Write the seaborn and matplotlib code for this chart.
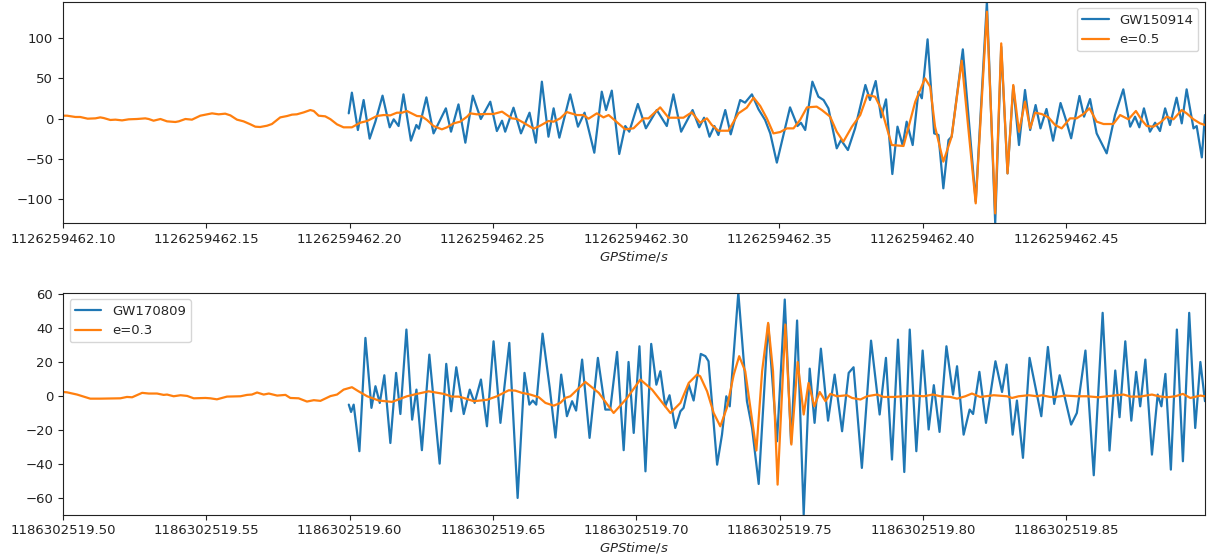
import numpy as np
import matplotlib
matplotlib.use("Agg")
import matplotlib.pyplot as plt
from matplotlib.ticker import FormatStrFormatter, MultipleLocator
import seaborn as sns

# GPS reference epochs (s); sample times below are in ms after each epoch
GW150914_T0 = 1126259462.0
GW170809_T0 = 1186302519.0

# --- GW150914: whitened detector strain (blue) and e=0.5 template (orange)
gw150914_ms = [
    199.7, 200.8, 202.9, 204.9, 207.0, 209.0, 211.5, 214.0, 215.4, 217.1,
    218.8, 221.4, 223.3, 224.2, 226.8, 229.3, 233.6, 235.4, 238.0, 240.4,
    243.0, 245.8, 249.1, 251.4, 253.2, 254.3, 257.2, 259.8, 262.8, 265.0,
    267.1, 269.4, 271.2, 273.2, 277.0, 279.7, 282.0, 285.4, 288.0, 289.5,
    291.5, 294.1, 296.2, 297.6, 300.6, 303.4, 307.2, 310.7, 313.0, 315.7,
    319.7, 322.0, 323.7, 325.6, 327.3, 328.7, 331.1, 333.0, 336.3, 338.0,
    340.4, 342.7, 345.0, 346.8, 349.1, 353.7, 356.3, 357.5, 359.0, 361.5,
    363.6, 365.4, 367.1, 370.0, 371.5, 373.9, 376.4, 380.0, 381.6, 383.6,
    385.5, 387.2, 389.4, 391.2, 393.0, 394.4, 396.5, 398.5, 399.7, 401.7,
    404.0, 405.5, 407.2, 409.0, 410.1, 414.0, 418.5, 422.4, 425.3, 427.4,
    429.6, 431.6, 433.6, 435.7, 437.5, 439.4, 441.1, 443.2, 445.5, 448.1,
    450.0, 451.8, 454.7, 456.3, 458.4, 460.7, 464.2, 467.1, 470.0, 472.4,
    474.1, 475.6, 477.2, 479.3, 481.1, 482.8, 484.6, 486.3, 488.6, 490.4,
    492.1, 494.5, 495.6, 497.4, 498.5,
]
gw150914_strain = [
    6.6, 32.2, -14.0, 23.1, -24.7, -3.7, 28.5, -10.7, -0.8, -9.1,
    30.1, -27.2, -7.8, -12.4, 26.4, -18.2, 12.8, -16.1, 17.7, -29.7,
    28.5, -0.4, 21.0, -15.3, -2.5, -16.1, 13.6, -18.2, 7.4, -29.7,
    45.8, -22.3, 12.8, -23.5, 30.1, -9.9, 7.4, -42.1, 33.4, 10.7,
    34.7, -43.7, -9.1, -16.1, 18.2, -11.9, 10.7, -9.1, 30.1, -16.1,
    10.7, -10.7, 1.2, -22.3, -9.1, -20.2, 10.7, -19.4, 23.1, 19.8,
    30.1, 11.6, -1.6, -18.2, -54.4, 14.0, -9.1, -5.0, -14.0, 45.8,
    27.2, 23.1, 12.8, -36.7, -26.4, -38.8, -12.0, 41.7, 23.1, 46.6,
    1.6, 23.9, -68.5, -9.9, -33.0, -3.7, -32.6, 33.4, 25.2, 98.2,
    -18.2, -20.2, -86.2, -26.4, -22.3, 85.8, -102.7, 144.8, -129.5, 89.0,
    -67.7, 40.4, -32.6, 35.5, -14.0, 16.9, -12.0, 12.0, -27.2, 19.4,
    -1.6, -24.3, 28.1, 2.5, 24.3, -18.2, -42.9, 4.5, 36.3, -9.9,
    2.5, -10.7, 12.8, -16.1, -5.0, -15.3, 12.8, -7.8, 26.0, -5.8,
    36.3, -12.0, -9.1, -47.9, 4.5,
]

model_e05_ms = [
    100.0, 101.4, 104.3, 106.0, 108.6, 111.3, 113.0, 114.2, 116.5, 118.3,
    120.6, 122.9, 125.8, 128.7, 129.9, 131.6, 134.0, 136.3, 139.2, 140.4,
    142.7, 145.0, 147.9, 149.7, 152.0, 154.3, 156.6, 158.4, 160.7, 163.0,
    165.4, 167.1, 168.8, 171.2, 172.9, 175.8, 178.2, 179.9, 181.6, 184.0,
    186.3, 187.5, 189.2, 191.5, 193.3, 195.6, 197.9, 200.8, 203.7, 206.1,
    209.5, 211.9, 214.2, 216.5, 218.3, 220.0, 223.5, 225.2, 227.0, 229.3,
    232.2, 234.0, 236.3, 238.6, 241.0, 242.1, 244.4, 248.0, 250.2, 253.2,
    254.9, 256.6, 258.4, 260.7, 264.2, 266.5, 269.4, 271.2, 273.5, 275.8,
    279.3, 281.6, 283.4, 286.3, 288.6, 290.4, 292.7, 296.2, 299.1, 302.6,
    304.3, 308.4, 311.3, 316.5, 319.4, 322.3, 324.7, 326.4, 328.7, 332.2,
    335.7, 338.6, 341.0, 343.3, 345.6, 347.9, 350.3, 352.6, 354.9, 357.2,
    359.6, 363.0, 364.8, 367.7, 370.0, 372.3, 375.3, 378.2, 380.7, 383.4,
    385.7, 389.2, 393.3, 397.4, 400.8, 402.6, 404.3, 407.2, 410.1, 413.6,
    418.5, 422.4, 425.3, 427.4, 429.6, 431.6, 433.6, 435.7, 437.5, 439.2,
    441.5, 443.9, 446.2, 448.5, 451.4, 453.7, 456.1, 458.2, 460.7, 463.1,
    466.5, 468.9, 471.8, 474.4, 476.4, 478.2, 480.5, 482.8, 485.2, 487.5,
    490.4, 492.1, 494.5, 496.8, 498.5,
]
model_e05_strain = [
    3.7, 3.7, 2.1, 2.1, 0.0, 0.4, 1.6, 0.8, -1.6, -1.2,
    -2.1, -0.8, -0.4, 0.4, -0.4, -2.5, -0.4, -3.3, -4.1, -3.3,
    -0.4, -1.2, 3.7, 5.0, 6.6, 5.4, 6.2, 4.1, -1.2, -3.3,
    -7.0, -9.9, -10.3, -8.7, -6.6, 1.6, 3.3, 5.0, 5.4, 7.8,
    10.7, 9.5, 3.7, 2.9, -0.6, -7.0, -10.7, -10.7, -5.0, -2.9,
    3.3, 4.5, 4.1, 7.4, 7.4, 9.5, 3.3, 2.9, -1.6, -9.1,
    -13.2, -10.7, -5.8, -3.7, 2.5, 6.6, 5.4, 5.8, 5.8, 8.7,
    4.5, 0.4, -0.4, -5.0, -12.4, -8.7, -2.9, -3.7, 0.4, 8.2,
    4.5, 4.5, 0.0, 6.6, 1.6, 4.5, -2.5, -13.2, -11.9, 0.4,
    0.4, 14.0, 1.2, 1.2, 7.8, -5.0, 0.4, -7.8, -14.9, -14.9,
    6.6, 13.6, 26.0, 15.7, 0.4, -18.2, -16.5, -12.0, -12.0, -1.6,
    14.0, 14.9, 10.7, 2.5, -16.1, -28.5, -9.9, 4.5, 29.3, 27.2,
    10.7, -32.6, -33.8, 21.0, 49.9, 39.6, -9.9, -53.2, -22.3, 71.8,
    -104.8, 132.4, -117.2, 93.2, -67.7, 41.7, -16.1, 21.0, -12.0, 7.4,
    5.8, 1.6, -7.8, -12.0, 0.4, 0.4, 5.8, 12.8, -3.7, -6.6,
    -6.6, 4.5, -0.8, 9.5, -1.6, -9.1, -9.9, -5.0, 2.5, -0.8,
    10.7, 6.6, -0.8, -5.8, -7.8,
]

# --- GW170809: whitened detector strain (blue) and e=0.3 template (orange)
gw170809_ms = [
    599.7, 600.5, 601.4, 603.4, 605.5, 607.6, 609.0, 610.5, 612.1, 614.2,
    616.2, 617.7, 619.8, 621.8, 623.3, 625.2, 627.8, 631.4, 633.7, 635.4,
    637.2, 639.8, 641.9, 643.6, 645.8, 647.9, 650.2, 652.6, 655.7, 658.6,
    661.0, 662.7, 663.9, 665.1, 667.3, 669.8, 671.8, 673.8, 675.8, 677.6,
    679.0, 681.1, 683.7, 686.6, 689.2, 690.9, 693.3, 695.6, 697.3, 699.1,
    701.1, 703.2, 705.2, 707.0, 708.4, 710.1, 711.6, 713.6, 715.4, 716.5,
    718.3, 720.0, 722.5, 724.1, 725.2, 728.2, 729.9, 731.4, 732.6, 735.6,
    738.6, 740.4, 742.7, 746.0, 749.1, 751.8, 754.0, 756.1, 758.4, 760.5,
    762.2, 764.4, 766.9, 769.2, 771.8, 774.1, 775.8, 778.7, 781.9, 784.9,
    787.1, 789.2, 791.3, 793.5, 795.4, 797.7, 799.9, 802.0, 803.8, 805.8,
    808.2, 810.5, 811.9, 814.2, 816.3, 817.5, 819.7, 822.0, 825.3, 827.6,
    829.2, 831.3, 832.8, 834.9, 837.2, 839.2, 841.3, 843.6, 845.8, 847.7,
    851.7, 853.7, 856.7, 859.6, 862.7, 865.1, 867.1, 868.6, 870.6, 872.7,
    874.4, 875.8, 877.6, 879.9, 881.9, 883.2, 884.6, 886.5, 888.6, 890.7,
    892.9, 895.0, 896.8, 898.4,
]
gw170809_strain = [
    -5.1, -9.4, -5.1, -32.4, 34.0, -7.0, 5.7, -4.1, 12.1, -27.6,
    13.5, -10.6, 38.9, -13.9, 3.7, -31.8, 24.2, -39.7, 18.8, -9.0,
    16.8, -10.6, 3.7, -4.1, 9.6, -17.8, 32.0, -15.8, 31.1, -59.8,
    13.5, -5.1, -2.7, -5.1, 36.5, 4.7, -24.4, 12.5, -11.9, -3.1,
    -8.6, 21.3, -24.6, 22.3, -8.0, -8.0, 25.8, -31.8, 19.9, -21.7,
    29.1, -44.2, 30.5, 6.6, 14.5, -6.1, 0.4, -18.8, -9.0, -7.0,
    6.6, -2.7, 24.6, 23.3, 20.3, -40.3, -22.7, -0.2, -6.1, 60.5,
    -3.1, -18.8, -51.6, 42.2, -26.6, 56.5, -27.6, 44.2, -69.6, 16.0,
    -15.8, 27.7, -14.5, 12.5, -20.7, 13.5, 16.8, -42.2, 32.4, -10.9,
    22.3, -37.3, 33.0, -44.6, 38.9, -32.4, 26.6, -19.7, 6.3, -21.1,
    29.1, 0.8, 17.4, -22.7, -8.0, -10.6, 14.1, -15.8, 20.3, 2.3,
    18.4, -22.7, -2.7, -36.3, 22.3, 5.7, -11.9, 28.7, -4.7, 12.1,
    -16.8, -10.0, 26.6, -46.5, 48.7, -32.0, 14.9, -12.5, 32.0, -14.5,
    14.1, -6.1, 21.3, -34.4, 0.8, -6.1, 12.9, -43.2, 38.9, -38.3,
    48.7, -18.8, 19.9, -3.1,
]

model_e03_ms = [
    500.0, 501.4, 504.9, 509.5, 513.0, 520.0, 522.3, 524.1, 527.6, 529.9,
    532.8, 535.1, 536.3, 538.6, 541.0, 543.3, 545.6, 549.7, 551.4, 553.7,
    557.2, 561.9, 564.2, 565.9, 567.7, 570.0, 571.8, 574.7, 577.6, 579.3,
    582.2, 585.1, 587.5, 589.8, 593.3, 595.6, 597.9, 600.8, 603.1, 606.1,
    610.1, 614.8, 620.0, 623.5, 627.6, 632.8, 635.7, 638.0, 639.8, 643.3,
    647.9, 651.4, 655.5, 657.8, 660.1, 663.0, 666.0, 668.3, 671.2, 673.5,
    675.2, 677.0, 682.2, 686.9, 692.1, 696.8, 701.4, 705.5, 711.9, 715.4,
    718.3, 721.2, 722.3, 724.7, 727.0, 729.3, 731.6, 734.0, 735.9, 738.0,
    739.8, 741.9, 743.9, 746.0, 747.7, 749.3, 752.0, 754.1, 756.3, 758.4,
    760.1, 762.1, 764.0, 766.0, 767.7, 770.0, 773.5, 775.3, 778.2, 780.5,
    784.0, 786.3, 789.8, 793.3, 796.8, 800.3, 803.5, 806.1, 809.6, 811.9,
    814.8, 817.1, 820.0, 824.7, 829.3, 831.1, 833.4, 836.9, 839.8, 841.5,
    844.4, 846.2, 849.7, 853.7, 857.2, 861.3, 865.4, 870.0, 872.4, 875.8,
    879.9, 882.2, 885.2, 888.1, 890.7, 893.3, 896.8, 898.4,
]
model_e03_strain = [
    2.3, 2.1, 0.8, -1.6, -1.6, -1.4, -0.6, -0.8, 1.8, 1.4,
    1.4, 0.6, 0.8, -0.2, 0.4, 0.0, -1.4, -1.2, -1.4, -2.0,
    -0.4, -0.2, 0.6, 0.8, 2.0, 0.8, 1.4, 0.2, 0.6, -1.2,
    -1.4, -3.3, -2.5, -2.9, -0.1, 0.8, 3.7, 5.1, 2.7, -0.2,
    -2.7, -3.5, -0.2, 1.2, 2.7, 1.2, -0.4, -0.4, -1.2, -3.1,
    -2.3, -0.2, 3.3, 3.1, 1.8, 0.8, -0.8, -4.1, -5.7, -4.1,
    -1.2, -0.2, 8.2, 1.8, -10.0, -1.2, 9.6, 3.7, -10.0, -4.1,
    7.6, 12.5, 11.5, 2.7, -10.0, -17.8, -7.0, 12.5, 23.3, 14.5,
    -7.0, -32.0, 14.5, 42.8, 14.5, -52.0, 41.8, -28.5, 19.9, -10.9,
    7.6, -6.1, 2.3, -3.1, 1.2, -0.2, 0.4, -1.2, -2.1, -0.2,
    0.8, -0.6, -0.6, -0.2, 0.2, -0.2, 0.8, -0.2, -0.6, -1.6,
    -0.2, 1.4, -0.6, 0.4, -0.2, -1.2, -0.2, 0.4, -0.2, 0.4,
    -0.6, -0.6, 0.2, -0.2, -0.2, -0.8, 0.0, 0.8, -0.4, -0.4,
    0.8, -0.2, -0.8, -0.2, 1.2, -1.2, 0.2, -0.2,
]

panels = [
    (GW150914_T0, gw150914_ms, gw150914_strain, "GW150914",
     model_e05_ms, model_e05_strain, "e=0.5", "upper right"),
    (GW170809_T0, gw170809_ms, gw170809_strain, "GW170809",
     model_e03_ms, model_e03_strain, "e=0.3", "upper left"),
]

sns.set_theme(style="ticks")
plt.rcParams.update({
    "font.family": ["DejaVu Sans"],
    "mathtext.fontset": "dejavusans",
    "xtick.labelsize": 9.5,
    "ytick.labelsize": 9.5,
    "axes.labelsize": 9.5,
    "legend.fontsize": 9.5,
    "xtick.major.size": 3.5,
    "ytick.major.size": 3.5,
    "xtick.major.width": 0.8,
    "ytick.major.width": 0.8,
    "axes.linewidth": 0.8,
    "axes.edgecolor": "#222222",
    "xtick.color": "#222222",
    "ytick.color": "#222222",
    "lines.solid_joinstyle": "round",
})

blue, orange = "#1f77b4", "#ff7f0e"

fig = plt.figure(figsize=(12.12, 5.59), dpi=100)
axes = [
    fig.add_axes([0.052, 0.6005, 0.9422, 0.3965]),
    fig.add_axes([0.052, 0.0793, 0.9422, 0.3971]),
]

for ax, (t0, d_ms, d_val, d_lab, m_ms, m_val, m_lab, loc) in zip(axes, panels):
    t_data = t0 + np.asarray(d_ms) / 1000.0
    t_model = t0 + np.asarray(m_ms) / 1000.0
    sns.lineplot(x=t_data, y=d_val, ax=ax, color=blue, linewidth=1.6,
                 estimator=None, sort=False, label=d_lab)
    sns.lineplot(x=t_model, y=m_val, ax=ax, color=orange, linewidth=1.6,
                 estimator=None, sort=False, label=m_lab)
    ax.margins(x=0, y=0)
    ax.autoscale(enable=True, tight=True)
    ax.xaxis.set_major_locator(MultipleLocator(0.05))
    ax.xaxis.set_major_formatter(FormatStrFormatter("%.2f"))
    ax.set_xlabel(r"$GPStime/s$", labelpad=2)
    ax.set_ylabel("")
    ax.legend(loc=loc, frameon=True, fancybox=True, framealpha=0.8,
              edgecolor="#cccccc")

fig.savefig("out.png", dpi=100)
